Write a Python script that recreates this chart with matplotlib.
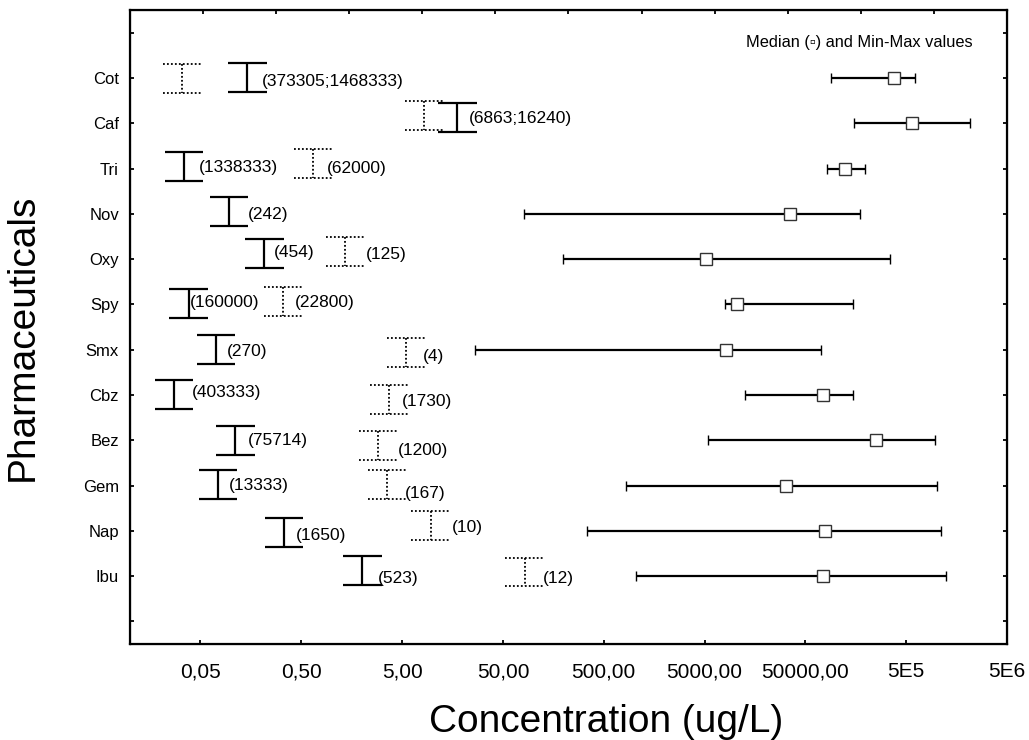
import numpy as np
from matplotlib import pyplot as plt

plt.rcParams['font.family'] = ['Liberation Sans', 'DejaVu Sans']

drugs = ['Cot', 'Caf', 'Tri', 'Nov', 'Oxy', 'Spy', 'Smx', 'Cbz', 'Bez', 'Gem', 'Nap', 'Ibu']

# median and min-max concentrations (ug/L)
median = [3.76e5, 5.66e5, 1.24e5, 3.51e4, 5150, 1.06e4, 8170, 7.53e4, 2.51e5, 3.23e4, 7.89e4, 7.53e4]
vmin = [9.0e4, 1.52e5, 8.15e4, 80.8, 199, 8040, 26.7, 1.26e4, 5420, 826, 338, 1035]
vmax = [6.18e5, 2.15e6, 1.94e5, 1.76e5, 3.44e5, 1.48e5, 7.22e4, 1.48e5, 9.62e5, 1.00e6, 1.10e6, 1.25e6]

# I-beam markers on the left (solid and dotted) with their labels
solid_x = [0.146, 17.7, 0.0344, 0.0964, 0.215, 0.0382, 0.0716, 0.0274, 0.111, 0.075, 0.339, 2.02]
solid_lbl = ['(373305;1468333)', '(6863;16240)', '(1338333)', '(242)', '(454)', '(160000)',
             '(270)', '(403333)', '(75714)', '(13333)', '(1650)', '(523)']
dotted_x = [0.0329, 8.33, 0.659, np.nan, 1.37, 0.332, 5.52, 3.74, 2.91, 3.57, 9.57, 82.2]
dotted_lbl = ['', '', '(62000)', '', '(125)', '(22800)', '(4)', '(1730)', '(1200)', '(167)', '(10)', '(12)']

xtick_vals = [0.05, 0.5, 5, 50, 500, 5000, 50000, 5e5, 5e6]
xtick_lbls = ['0,05', '0,50', '5,00', '50,00', '500,00', '5000,00', '50000,00', '5E5', '5E6']

# small layout nudges (vertical offsets in row units, label offsets in pixels)
solid_dy = [0, -0.12, -0.04, -0.06, -0.12, -0.02, 0, 0, 0, -0.02, 0.03, -0.13]
dotted_dy = [0.02, -0.17, -0.11, 0, -0.17, -0.07, 0.07, 0.10, 0.11, -0.02, -0.12, -0.09]
solid_dx_px = [14, 11, 15, 19, 10, 1, 11, 18, 12, 11, 12, 15]
solid_ty_px = [-4, -1, -1, -3, 1, 1, -2, 2, 0, -1, -3, -8]
dotted_dx_px = [0, 0, 14, 0, 20, 12, 16, 12, 19, 18, 21, 18]
dotted_ty_px = [0, 0, -5, 0, -3, -1, -4, -2, -5, -9, -2, -7]

fig = plt.figure(figsize=(10.29, 7.40), dpi=100)
ax = fig.add_axes([130 / 1029, 1 - 644 / 740, 877 / 1029, 634 / 740])

ypos = np.arange(1, len(drugs) + 1)

ax.errorbar(median, ypos, xerr=[np.array(median) - np.array(vmin), np.array(vmax) - np.array(median)],
            fmt='s', color='black', ecolor='black', elinewidth=1.6, capsize=3.8, capthick=1.6,
            ms=8.8, mfc='white', mec='#333333', mew=1.0, zorder=3)

h = 0.32
k = 1.55
dots = (0, (1, 1.2))
for i in range(len(drugs)):
    # solid I-beam
    xs, ys = solid_x[i], ypos[i] + solid_dy[i]
    ax.vlines(xs, ys - h, ys + h, color='black', lw=1.6)
    ax.hlines([ys - h, ys + h], xs / k, xs * k, color='black', lw=1.6)
    ax.annotate(solid_lbl[i], (xs, ys), xytext=(solid_dx_px[i], solid_ty_px[i]),
                textcoords='offset pixels', ha='left', va='center', fontsize=12.5)
    # dotted I-beam
    xd = dotted_x[i]
    if np.isnan(xd):
        continue
    yd = ypos[i] + dotted_dy[i]
    ax.vlines(xd, yd - h, yd + h, color='black', lw=1.3, linestyles=[dots])
    ax.hlines([yd - h, yd + h], xd / k, xd * k, color='black', lw=1.3, linestyles=[dots])
    if dotted_lbl[i]:
        ax.annotate(dotted_lbl[i], (xd, yd), xytext=(dotted_dx_px[i], dotted_ty_px[i]),
                    textcoords='offset pixels', ha='left', va='center', fontsize=12.5)

ax.set_xscale('log')
ax.set_xlim(0.01, 5e6)
ax.set_xticks(xtick_vals)
ax.set_xticklabels(xtick_lbls, fontsize=15)
ax.minorticks_off()

ax.set_ylim(len(drugs) + 1.5, -0.5)
ax.set_yticks(np.arange(0, len(drugs) + 2))
ax.set_yticklabels([''] + drugs + [''], fontsize=12)

ax.tick_params(axis='x', direction='in', length=2.6, width=1.3, pad=13, top=False)
ax.tick_params(axis='y', direction='in', length=3, width=1.3, pad=8, right=True)
for s in ax.spines.values():
    s.set_linewidth(1.6)

# top axis has its own evenly spaced ticks
top = ax.twiny()
top.set_xlim(0, 12)
top.set_xticks(range(1, 12))
top.tick_params(axis='x', direction='in', length=3, width=1.3, labeltop=False)

ax.text(0.961, 0.9495, 'Median (\u25ab) and Min-Max values', transform=ax.transAxes,
        ha='right', va='center', fontsize=11.8)

ax.set_xlabel('Concentration (ug/L)', fontsize=28, va='center')
ax.xaxis.set_label_coords(0.543, -0.123)
ax.set_ylabel('Pharmaceuticals', fontsize=28, va='center', ha='center')
ax.yaxis.set_label_coords(-0.122, 0.483)

plt.savefig('out.png', dpi=100)
